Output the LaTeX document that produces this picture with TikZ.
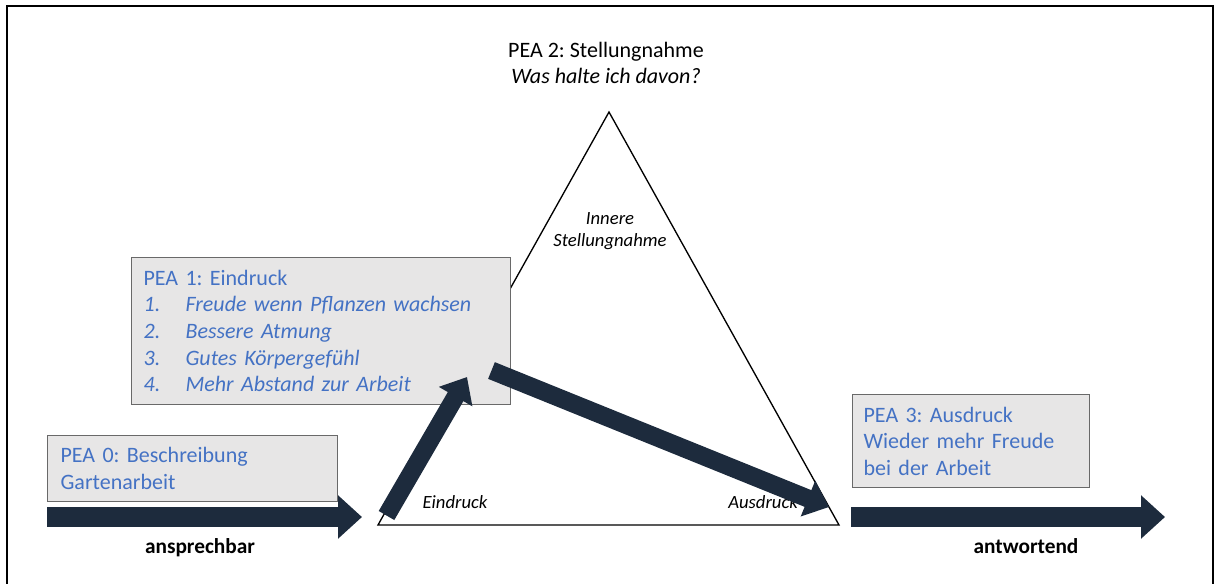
\documentclass[tikz,border=0pt]{standalone}
\usepackage{fontspec}
\setmainfont{Carlito}
\usetikzlibrary{arrows.meta}
\definecolor{boxfill}{RGB}{231,230,230}
\definecolor{boxline}{RGB}{105,105,105}
\definecolor{peablue}{RGB}{68,114,196}
\definecolor{navy}{RGB}{29,43,61}
\frenchspacing
\begin{document}
\begin{tikzpicture}[x=0.75pt,y=-0.75pt,
  pbox/.style={draw=boxline,line width=0.9pt,fill=boxfill,text=peablue,align=left,
    anchor=north west,inner ysep=0pt,font=\fontsize{16.5}{20}\selectfont},
  bigarrow/.style={draw=navy,line width=15pt,-{Triangle[length=18pt,width=31.5pt]}},
  diagarrow/.style={draw=navy,line width=13.5pt,-{Triangle[length=17pt,width=28pt]}},
  cornerlbl/.style={font=\fontsize{14}{16.5}\selectfont\itshape,inner sep=0pt},
  sidelbl/.style={font=\fontsize{16}{19}\selectfont\bfseries,inner sep=0pt}]
\useasboundingbox (0,0) rectangle (1221,583);
% frame
\draw[line width=1.8pt] (7,590) -- (7,6) -- (1213,6) -- (1213,590);
% triangle
\coordinate (apex) at (609,112);
\coordinate (tl) at (378,525);
\coordinate (tr) at (839,525);
\draw[line width=1pt,line join=miter] (apex) -- (tl) -- (tr) -- cycle;
% title
\node[font=\fontsize{16.5}{20}\selectfont,align=center] (title) at (606,63)
  {PEA 2: Stellungnahme\\\textit{Was halte ich davon?}};
\node[cornerlbl,align=center] (inner) at (610,231) {Innere\\Stellungnahme};
% boxes
\node[pbox,text width=266pt,inner xsep=9pt,minimum height=110.25pt] (pea1) at (131,257)
  {PEA 1: Eindruck\\
   \textit{\makebox[31.5pt][l]{1.}Freude wenn Pflanzen wachsen}\\
   \textit{\makebox[31.5pt][l]{2.}Bessere Atmung}\\
   \textit{\makebox[31.5pt][l]{3.}Gutes Körpergefühl}\\
   \textit{\makebox[31.5pt][l]{4.}Mehr Abstand zur Arbeit}};
\node[pbox,text width=198pt,inner xsep=9.75pt,minimum height=49.5pt] (pea0) at (47,435)
  {PEA 0: Beschreibung\\Gartenarbeit};
\node[pbox,text width=161pt,inner xsep=8.25pt,minimum height=69.75pt] (pea3) at (852,394)
  {PEA 3: Ausdruck\\Wieder mehr Freude\\bei der Arbeit};
% corner labels
\node[cornerlbl] (eind) at (455,502) {Eindruck};
\node[cornerlbl,anchor=west] (ausd) at (728,502) {Ausdruck};
% side labels
\node[sidelbl] (anspr) at (200,548) {ansprechbar};
\node[sidelbl] (antw) at (1026,546) {antwortend};
% arrows
\coordinate (a0s) at (47,517);
\coordinate (a0e) at (362,517);
\coordinate (a3s) at (851,517);
\coordinate (a3e) at (1165,517);
\coordinate (ups) at (386.5,515.5);
\coordinate (upe) at (467,377);
\coordinate (ads) at (491.5,370.5);
\coordinate (ade) at (829,507);
\draw[bigarrow] (a0s) -- (a0e);
\draw[bigarrow] (a3s) -- (a3e);
\draw[diagarrow] (ups) -- (upe);
\draw[diagarrow] (ads) -- (ade);
\end{tikzpicture}
\end{document}
